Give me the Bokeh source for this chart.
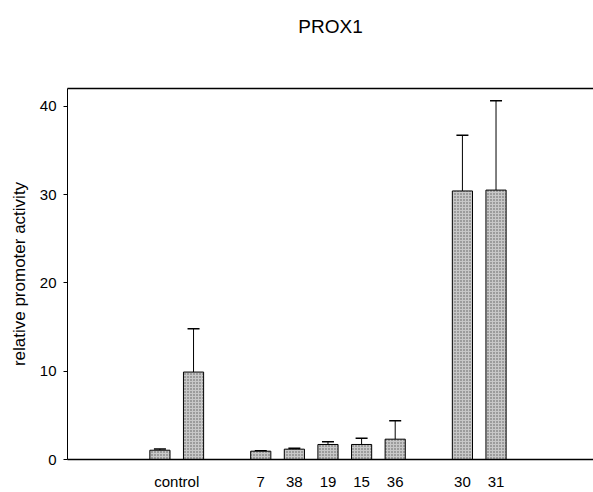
from bokeh.plotting import figure
from bokeh.models import ColumnDataSource, Whisker, TeeHead, FixedTicker, LinearAxis, Range1d
from bokeh.embed import file_html
from bokeh.resources import INLINE

# data
title_text = "PROX1"
labels = ["control", "control", "7", "38", "19", "15", "36", "30", "31"]
slots = [0, 1, 3, 4, 5, 6, 7, 9, 10]
values = [1.05, 9.9, 0.94, 1.17, 1.7, 1.7, 2.3, 30.4, 30.5]
errors = [0.15, 4.9, 0.04, 0.1, 0.3, 0.7, 2.1, 6.3, 10.1]
tick_pos = [0.5, 3, 4, 5, 6, 7, 9, 10]
tick_labels = ["control", "7", "38", "19", "15", "36", "30", "31"]
y_ticks = [0, 10, 20, 30, 40]

FONT = "Liberation Sans"

src = ColumnDataSource(dict(
    x=slots, top=values,
    upper=[v + e for v, e in zip(values, errors)],
))

p = figure(width=593, height=492, output_backend="svg", toolbar_location=None,
           x_range=Range1d(-2.75, 12.9), y_range=Range1d(0, 42),
           min_border_left=67, min_border_right=0, min_border_top=88,
           min_border_bottom=33)
p.outline_line_color = None
p.grid.visible = False
p.background_fill_color = "white"

p.vbar(x="x", top="top", width=0.6, bottom=0, source=src,
       fill_color="#c8c8c8", line_color="black", line_width=1,
       hatch_pattern="dot", hatch_color="#5a5a5a", hatch_scale=3, hatch_weight=1)

w = Whisker(base="x", upper="upper", lower="top", source=src,
            line_color="black", line_width=1,
            upper_head=TeeHead(size=12, line_color="black", line_width=1.5),
            lower_head=None)
p.add_layout(w)

xa = p.xaxis[0]
xa.ticker = FixedTicker(ticks=tick_pos)
xa.major_label_overrides = {t: l for t, l in zip(tick_pos, tick_labels)}
xa.major_tick_line_color = None
xa.major_tick_in = 0
xa.major_tick_out = 0
xa.minor_tick_line_color = None
xa.major_label_standoff = 13
xa.major_label_text_font = FONT
xa.major_label_text_font_size = "15px"
xa.major_label_text_color = "black"
xa.axis_line_color = "black"
xa.axis_line_width = 1.5

ya = p.yaxis[0]
ya.ticker = FixedTicker(ticks=y_ticks)
ya.minor_tick_line_color = None
ya.major_tick_in = 0
ya.major_tick_out = 4
ya.major_label_standoff = 7
ya.major_label_text_font = FONT
ya.major_label_text_font_size = "15px"
ya.major_label_text_color = "black"
ya.axis_label = "relative promoter activity"
ya.axis_label_text_font = FONT
ya.axis_label_text_font_size = "17px"
ya.axis_label_text_font_style = "normal"
ya.axis_label_text_color = "black"
ya.axis_label_standoff = 8
ya.axis_line_color = "black"
ya.axis_line_width = 1

top_axis = LinearAxis(ticker=FixedTicker(ticks=[]), major_tick_line_color=None,
                      minor_tick_line_color=None, major_label_text_font_size="0px",
                      major_label_standoff=0,
                      axis_line_color="black", axis_line_width=1.5,
                      axis_label=title_text, axis_label_standoff=52,
                      axis_label_text_font=FONT, axis_label_text_font_size="19px",
                      axis_label_text_font_style="normal", axis_label_text_color="black")
p.add_layout(top_axis, "above")

open("out.html", "w").write(file_html(p, INLINE))
